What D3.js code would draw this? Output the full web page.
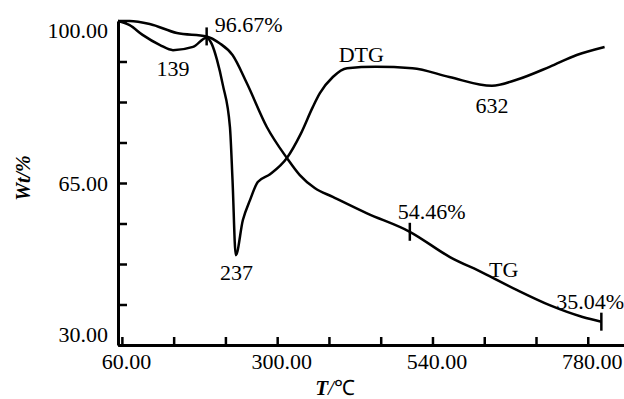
<!DOCTYPE html>
<html>
<head>
<meta charset="utf-8">
<script src="https://cdn.jsdelivr.net/npm/d3@7"></script>
<style>
  body { margin: 0; background: #fff; }
  svg { display: block; }
  text { font-family: "Liberation Serif", "Times New Roman", serif; fill: #000; }
</style>
</head>
<body>
<div id="chart"></div>
<script>
// TG curve: temperature (°C) and mass left (%)
const tgTemp = [54, 72, 103, 145, 191, 211, 231, 253, 284, 315, 335, 358, 386, 438, 505, 567, 618, 670, 721, 772, 801];
const tgMass = [100, 100, 99.35, 97.4, 96.67, 95.2, 92.65, 86.6, 77.1, 70.4, 66.7, 63.9, 62.0, 58.5, 54.46, 49.0, 45.6, 41.9, 38.6, 36.05, 35.04];

// DTG curve, drawn in the same frame (no own axis)
const dtgTemp = [54, 72, 92, 119, 139, 170, 191, 199, 207, 216, 227, 231, 236, 247, 258, 270, 289, 315, 336, 355, 366, 386, 408, 452, 509, 566, 632, 670, 721, 763, 806];
const dtgVal = [100, 99.1, 97.0, 94.8, 93.7, 94.4, 96.4, 95.0, 91.6, 86.2, 77.1, 65.6, 49.4, 57.0, 61.3, 65.2, 66.9, 70.4, 75.5, 81.4, 84.4, 87.9, 89.8, 90.1, 89.8, 87.9, 86.0, 87.3, 90.1, 92.65, 94.4];

// marked points on TG
const markTemp = [191, 505, 801];
const markMass = [96.67, 54.46, 35.04];

// peak labels on DTG
const peakTemp = [139, 237, 632];

const xTicks = [60, 140, 220, 300, 380, 460, 540, 620, 700, 780];
const xLabels = [60, 300, 540, 780];
const yTicks = [30, 38.75, 47.5, 56.25, 65, 73.75, 82.5, 91.25, 100];
const yLabels = [30, 65, 100];

const width = 624, height = 399;

const svg = d3.select('#chart').append('svg')
  .attr('width', width)
  .attr('height', height);

const x = d3.scaleLinear().domain([54, 836]).range([118, 624]);
const y = d3.scaleLinear().domain([30, 100]).range([345, 21]);

// x axis
const xAxis = svg.append('g')
  .attr('transform', `translate(0,${y(30)})`)
  .call(d3.axisBottom(x)
    .tickValues(xTicks)
    .tickSizeInner(-8)
    .tickSizeOuter(0)
    .tickPadding(8)
    .tickFormat(d => xLabels.includes(d) ? d3.format('.2f')(d) : ''));
xAxis.select('.domain').attr('stroke-width', 3);
xAxis.selectAll('.tick line').attr('stroke-width', 2.5);
xAxis.selectAll('.tick text').attr('font-size', 22).attr('dx', 4);

// y axis
const yAxis = svg.append('g')
  .attr('transform', `translate(${x(54)},0)`)
  .call(d3.axisLeft(y)
    .tickValues(yTicks)
    .tickSizeInner(-9)
    .tickSizeOuter(0)
    .tickPadding(10)
    .tickFormat(d => yLabels.includes(d) ? d3.format('.2f')(d) : ''));
yAxis.select('.domain').attr('stroke-width', 3);
yAxis.selectAll('.tick line').attr('stroke-width', 2.5);
yAxis.selectAll('.tick text')
  .attr('font-size', 22)
  .attr('dy', d => d === 100 ? '0.75em' : d === 30 ? '-0.15em' : '0.32em');
svg.selectAll('.domain').attr('stroke', '#000');
svg.selectAll('.tick line').attr('stroke', '#000');

// axis titles
const xt = svg.append('text')
  .attr('x', 335).attr('y', 395)
  .attr('text-anchor', 'middle')
  .attr('font-size', 21);
xt.append('tspan').attr('font-style', 'italic').attr('font-weight', 'bold').text('T');
xt.append('tspan').attr('font-style', 'italic').text('/');
xt.append('tspan').text('℃');

svg.append('text')
  .attr('transform', 'translate(30,178) rotate(-90)')
  .attr('text-anchor', 'middle')
  .attr('font-size', 20)
  .attr('font-style', 'italic')
  .attr('font-weight', 'bold')
  .text('Wt/%');

// curves
const line = d3.line()
  .x(d => x(d[0]))
  .y(d => y(d[1]))
  .curve(d3.curveMonotoneX);

svg.append('path')
  .datum(tgTemp.map((t, i) => [t, tgMass[i]]))
  .attr('d', line)
  .attr('fill', 'none')
  .attr('stroke', '#000')
  .attr('stroke-width', 2.5);

svg.append('path')
  .datum(dtgTemp.map((t, i) => [t, dtgVal[i]]))
  .attr('d', line)
  .attr('fill', 'none')
  .attr('stroke', '#000')
  .attr('stroke-width', 2.5);

// small vertical marks on TG
svg.selectAll('.mark')
  .data(markTemp)
  .enter()
  .append('line')
  .attr('class', 'mark')
  .attr('x1', d => x(d)).attr('x2', d => x(d))
  .attr('y1', (d, i) => y(markMass[i]) - 9)
  .attr('y2', (d, i) => y(markMass[i]) + 9)
  .attr('stroke', '#000')
  .attr('stroke-width', 2.5);

// mark labels
const markDx = [8, -12, -45];
const markDy = [-4, -13, -13];
svg.selectAll('.mlab')
  .data(markTemp)
  .enter()
  .append('text')
  .attr('class', 'mlab')
  .attr('x', (d, i) => x(d) + markDx[i])
  .attr('y', (d, i) => y(markMass[i]) + markDy[i])
  .attr('font-size', 22)
  .text((d, i) => d3.format('.2f')(markMass[i]) + '%');

// peak labels
const peakDy = [26, 25, 27];
svg.selectAll('.plab')
  .data(peakTemp)
  .enter()
  .append('text')
  .attr('class', 'plab')
  .attr('x', d => x(d))
  .attr('y', (d, i) => y(dtgVal[dtgTemp.indexOf(d === 237 ? 236 : d)]) + peakDy[i])
  .attr('text-anchor', 'middle')
  .attr('font-size', 22)
  .text(d => d);

// curve names
svg.append('text').attr('x', x(430)).attr('y', 62)
  .attr('text-anchor', 'middle').attr('font-size', 22).text('DTG');
svg.append('text').attr('x', x(650)).attr('y', 277)
  .attr('text-anchor', 'middle').attr('font-size', 22).text('TG');
</script>
</body>
</html>
